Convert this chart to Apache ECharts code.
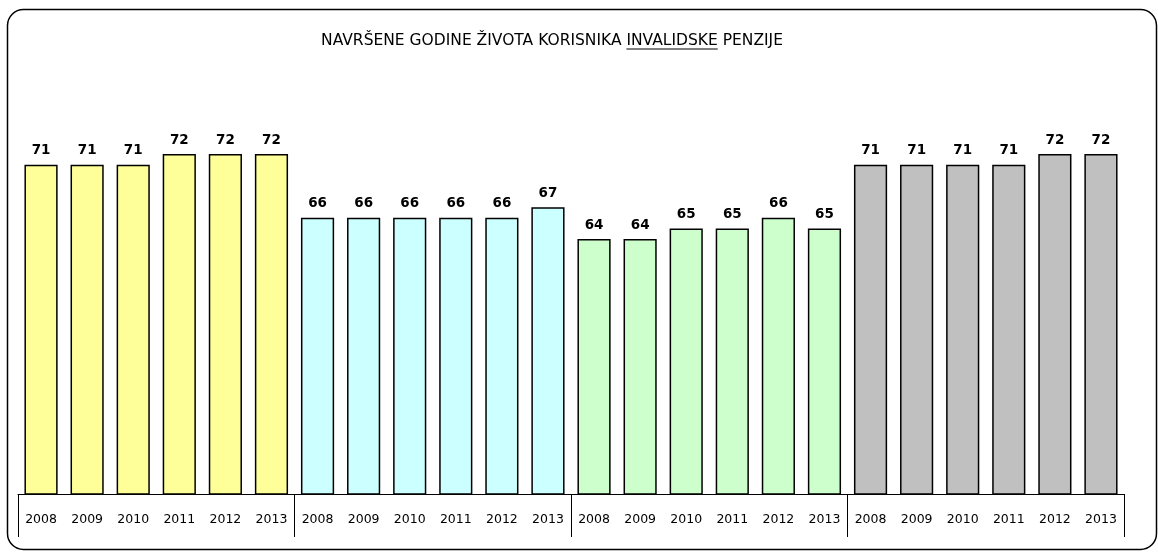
<!DOCTYPE html>
<html>
<head>
<meta charset="utf-8">
<script src="https://cdn.jsdelivr.net/npm/echarts@6/dist/echarts.min.js"></script>
</head>
<body style="margin:0">
<div id="chart" style="width:1158px;height:554px"></div>
<script>
var years = ['2008', '2009', '2010', '2011', '2012', '2013'];
var group1 = [71, 71, 71, 72, 72, 72];
var group2 = [66, 66, 66, 66, 66, 67];
var group3 = [64, 64, 65, 65, 66, 65];
var group4 = [71, 71, 71, 71, 72, 72];
var groupColors = ['#FFFF99', '#CCFFFF', '#CCFFCC', '#C0C0C0'];
var titleParts = ['NAVRŠENE GODINE ŽIVOTA KORISNIKA ', 'INVALIDSKE', ' PENZIJE'];

var groups = [group1, group2, group3, group4];
var categories = [];
var values = [];
groups.forEach(function (g) {
    g.forEach(function (v, i) {
        categories.push(years[i]);
        values.push(v);
    });
});

// size the title to the reference width, then find where the underline goes
var ctx = document.createElement('canvas').getContext('2d');
ctx.font = '13px "DejaVu Sans"';
var titleSize = Math.round(13 * 469 / ctx.measureText(titleParts.join('')).width * 2) / 2;
var titleFont = titleSize + 'px "DejaVu Sans"';
ctx.font = titleFont;
var w0 = ctx.measureText(titleParts[0]).width;
var w1 = ctx.measureText(titleParts[1]).width;
var wAll = ctx.measureText(titleParts.join('')).width;
var titleLeft = 552 - wAll / 2;
var titleY = 41;

var myChart = echarts.init(document.getElementById('chart'));
myChart.setOption({
    animation: false,
    grid: { left: 18, right: 34, top: 69, bottom: 60 },
    xAxis: [{
        type: 'category',
        data: categories,
        axisLine: { lineStyle: { color: '#000', width: 1 } },
        axisTick: { show: false },
        axisLabel: {
            interval: 0,
            margin: 19,
            color: '#000',
            fontFamily: 'DejaVu Sans',
            fontSize: 12.5
        }
    }, {
        type: 'category',
        position: 'bottom',
        data: ['a', 'b', 'c', 'd'],
        axisLine: { show: false },
        axisTick: { show: true, length: 43, lineStyle: { color: '#000' } },
        axisLabel: { show: false }
    }],
    yAxis: {
        type: 'value',
        min: 40,
        max: 80,
        show: false
    },
    series: [{
        type: 'bar',
        data: values,
        barWidth: '72%',
        itemStyle: {
            borderColor: '#000',
            borderWidth: 1.5,
            color: function (p) {
                return groupColors[Math.floor(p.dataIndex / 6)];
            }
        },
        label: {
            show: true,
            position: 'top',
            distance: 7,
            color: '#000',
            fontWeight: 'bold',
            fontFamily: 'DejaVu Sans',
            fontSize: 13.5
        }
    }],
    graphic: [{
        type: 'rect',
        shape: { x: 7.5, y: 9.5, width: 1149, height: 540, r: 16 },
        style: { fill: 'none', stroke: '#000', lineWidth: 1.5 },
        silent: true
    }, {
        type: 'text',
        x: titleLeft,
        y: titleY,
        style: {
            text: titleParts.join(''),
            font: titleFont,
            fill: '#000',
            verticalAlign: 'middle'
        }
    }, {
        type: 'line',
        shape: { x1: titleLeft + w0, y1: titleY + 8, x2: titleLeft + w0 + w1, y2: titleY + 8 },
        style: { stroke: '#000', lineWidth: 1 }
    }]
});
</script>
</body>
</html>
